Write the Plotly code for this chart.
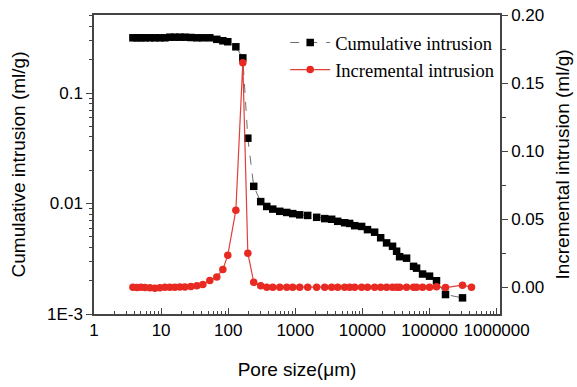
import plotly.graph_objects as go

# Pore size (µm) for cumulative intrusion
cum_size = [3.8, 4.36, 5.0, 5.74, 6.81, 8.08, 9.6, 11.4, 13.5, 16.0, 19.0, 22.6, 27.8, 34.1,
            41.9, 53.2, 67.6, 83.2, 98.6, 130, 165, 196, 240, 305, 375, 461, 586, 745, 915,
            1162, 1530, 2080, 2740, 3480, 4280, 5430, 6450, 7660, 9730, 11900, 15200, 18700,
            22900, 28100, 32300, 35800, 45500, 57800, 64100, 78700, 100000, 127000, 173000,
            310000]
cum_val = [0.316, 0.316, 0.316, 0.316, 0.316, 0.316, 0.316, 0.316, 0.32, 0.32, 0.32, 0.32,
           0.318, 0.316, 0.316, 0.316, 0.306, 0.297, 0.291, 0.262, 0.208, 0.039, 0.0143,
           0.0104, 0.0094, 0.0089, 0.0085, 0.0083, 0.0081, 0.0079, 0.0078, 0.0075, 0.0073,
           0.0072, 0.0069, 0.0067, 0.0066, 0.0063, 0.0062, 0.0058, 0.0055, 0.0049, 0.0044,
           0.0041, 0.0037, 0.0033, 0.0032, 0.0027, 0.0026, 0.0023, 0.0022, 0.0020, 0.0015,
           0.0014]

# Pore size (µm) for incremental intrusion
inc_size = [3.8, 4.36, 5.0, 5.74, 6.81, 8.08, 9.6, 11.4, 13.5, 16.0, 19.0, 22.6, 27.8, 34.1,
            41.9, 53.2, 67.6, 83.2, 98.6, 130, 165, 196, 240, 305, 375, 461, 586, 745, 915,
            1162, 1530, 2080, 2740, 3480, 4280, 5430, 6450, 7660, 9730, 11900, 15200, 18700,
            22900, 28100, 32300, 35800, 45500, 57800, 64100, 78700, 100000, 127000, 173000,
            310000, 422000]
inc_val = [0.0, -0.0003, 0.0, -0.0003, -0.0005, -0.0008, -0.0005, 0.0, 0.0, 0.0, 0.0002,
           0.0002, 0.0005, 0.001, 0.002, 0.005, 0.0075, 0.013, 0.0235, 0.0566, 0.165, 0.025,
           0.0037, 0.001, 0.0, 0.0, 0.0, 0.0, 0.0, 0.0, 0.0, 0.0, 0.0, 0.0, 0.0, 0.0, 0.0,
           0.0, 0.0, 0.0, 0.0, 0.0, 0.0, 0.0, 0.0, 0.0, 0.0, 0.0, 0.0, 0.0, 0.0, 0.0003,
           -0.0003, 0.0015, 0.0]

x_ticks = [1, 10, 100, 1000, 10000, 100000, 1000000]
x_ticktext = ["1", "10", "100", "1000", "10000", "100000", "1000000"]
y1_ticks = [0.001, 0.01, 0.1]
y1_ticktext = ["1E-3", "0.01", "0.1"]
y2_ticks = [0.0, 0.05, 0.10, 0.15, 0.20]
y2_ticktext = ["0.00", "0.05", "0.10", "0.15", "0.20"]

x_minor = [m * 10 ** d for d in range(0, 7) for m in range(2, 10)]
y_minor = [m * 10 ** d for d in range(-3, 0) for m in range(2, 10)]

fig = go.Figure()
fig.add_trace(go.Scatter(
    x=cum_size, y=cum_val, name="Cumulative intrusion", mode="lines+markers",
    line=dict(color="rgba(60,60,60,0.75)", width=1, dash="dash"),
    marker=dict(symbol="square", size=7.5, color="black"),
    yaxis="y"))
fig.add_trace(go.Scatter(
    x=inc_size, y=inc_val, name="Incremental intrusion", mode="lines+markers",
    line=dict(color="#e0403a", width=1.2),
    marker=dict(symbol="circle", size=7.5, color="#e82a22"),
    yaxis="y2"))

axis_font = dict(family="Liberation Sans, Arial, sans-serif", size=17, color="black")
title_font = dict(family="Liberation Sans, Arial, sans-serif", size=19, color="black")

fig.update_layout(
    width=577, height=387,
    margin=dict(l=94, r=77, t=15, b=73),
    paper_bgcolor="white", plot_bgcolor="white",
    showlegend=True,
    legend=dict(x=0.998, xanchor="right", y=0.97, yanchor="top",
                bgcolor="rgba(0,0,0,0)",
                font=dict(family="Liberation Serif, Times New Roman, serif", size=18.5, color="black"),
                tracegroupgap=0, itemwidth=40),
    xaxis=dict(type="log", range=[0, 6.05], tickvals=x_ticks, ticktext=x_ticktext,
               showline=True, linecolor="#444", linewidth=1.5, mirror=True, automargin=False,
               ticks="inside", ticklen=6, tickcolor="#444", tickwidth=1.2,
               minor=dict(ticks="inside", ticklen=3, tickcolor="#444", tickvals=x_minor, showgrid=False),
               showgrid=False, zeroline=False, tickfont=axis_font,
               title=dict(text="Pore size(\u03bcm)", font=title_font, standoff=24)),
    yaxis=dict(type="log", range=[-3, -0.294], tickvals=y1_ticks, ticktext=y1_ticktext,
               showline=True, linecolor="#444", linewidth=1.5, automargin=False,
               ticks="outside", ticklen=6, tickcolor="#444", tickwidth=1.2,
               minor=dict(ticks="outside", ticklen=3, tickcolor="#444", tickvals=y_minor, showgrid=False),
               showgrid=False, zeroline=False, tickfont=axis_font,
               title=dict(text="Cumulative intrusion (ml/g)", font=title_font, standoff=16)),
    yaxis2=dict(overlaying="y", side="right", range=[-0.0197, 0.20],
                tickvals=y2_ticks, ticktext=y2_ticktext, automargin=False,
                showline=True, linecolor="#444", linewidth=1.5,
                ticks="outside", ticklen=6, tickcolor="#444", tickwidth=1.2,
                minor=dict(ticks="outside", ticklen=4, tickcolor="#444", dtick=0.025, showgrid=False),
                showgrid=False, zeroline=False, tickfont=axis_font,
                title=dict(text="Incremental intrusion (ml/g)", font=title_font, standoff=12)),
)

fig.write_html("out.html")
